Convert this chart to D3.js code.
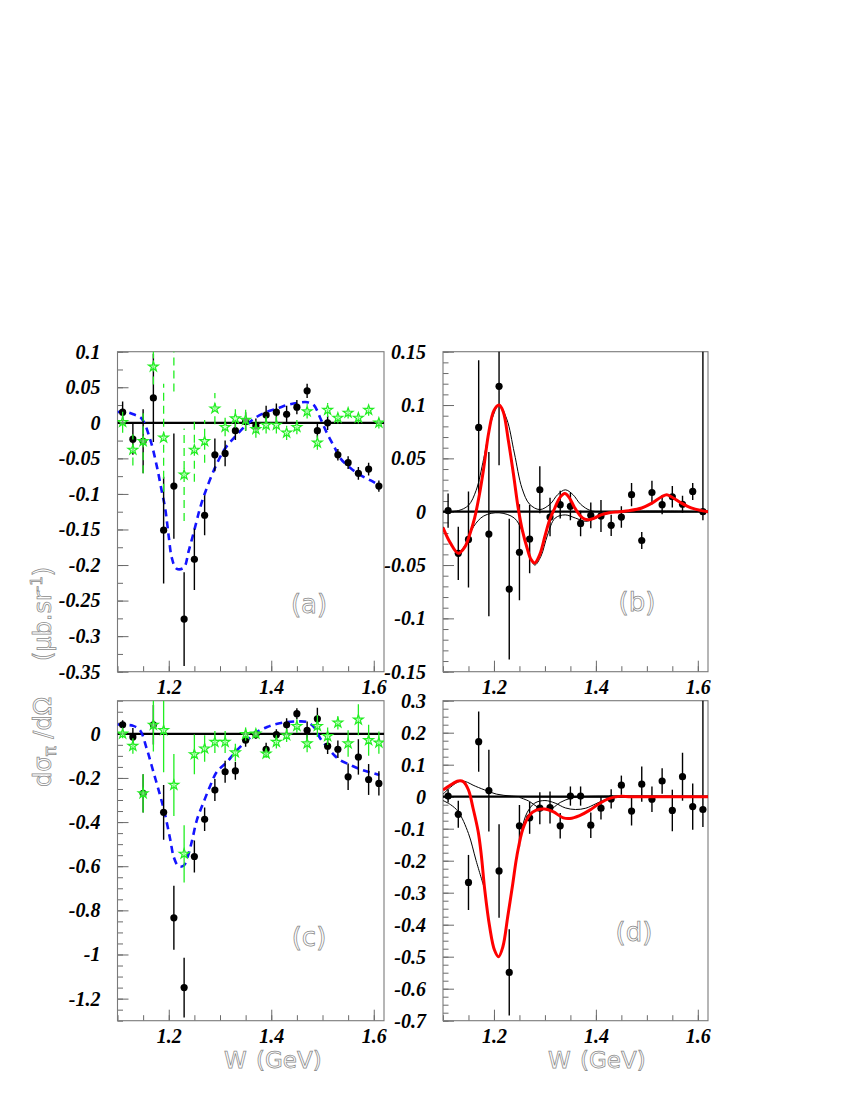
<!DOCTYPE html>
<html><head><meta charset="utf-8">
<script src="https://cdn.jsdelivr.net/npm/d3@7"></script>
<style>body{margin:0;background:#fff}svg{display:block}
.tl{font-family:"Liberation Serif","Times New Roman",serif;font-weight:bold;font-style:italic;font-size:20px}
</style>
</head><body>
<script>
// ---------------- DATA ----------------
const wPoints = [1.11,1.13,1.15,1.17,1.19,1.21,1.23,1.25,1.27,1.29,1.31,1.33,1.35,1.37,1.39,1.41,1.43,1.45,1.47,1.49,1.51,1.53,1.55,1.57,1.59,1.61];

// panel (a)
const aBlack    = [0.015,-0.023,-0.026,0.035,-0.151,-0.089,-0.276,-0.192,-0.130,-0.045,-0.043,-0.011,0.002,-0.004,0.011,0.015,0.012,0.022,0.045,-0.011,0.0,-0.045,-0.056,-0.071,-0.065,-0.089];
const aBlackErr = [0.015,0.022,0.045,0.062,0.075,0.074,0.066,0.043,0.028,0.023,0.018,0.013,0.013,0.010,0.013,0.012,0.012,0.010,0.010,0.010,0.010,0.008,0.009,0.009,0.009,0.008];
const aGreen    = [0.001,-0.038,-0.026,0.079,-0.021,0.15,-0.073,-0.038,-0.026,0.020,-0.006,0.006,0.004,-0.009,-0.003,-0.003,-0.014,-0.006,0.016,-0.028,0.018,0.007,0.014,0.007,0.018,0.0];
const aGreenErr = [0.015,0.022,0.045,0.025,0.076,0.106,0.065,0.045,0.030,0.022,0.013,0.013,0.015,0.012,0.012,0.012,0.010,0.010,0.010,0.010,0.010,0.008,0.008,0.008,0.008,0.008];
const aBlueW = [1.10,1.111,1.131,1.147,1.164,1.177,1.186,1.193,1.200,1.206,1.215,1.229,1.239,1.252,1.261,1.271,1.291,1.310,1.330,1.353,1.372,1.392,1.412,1.431,1.451,1.470,1.483,1.496,1.509,1.523,1.535,1.555,1.575,1.594,1.614];
const aBlueY = [0.015,0.016,0.012,0.006,-0.024,-0.062,-0.095,-0.12,-0.16,-0.19,-0.205,-0.204,-0.18,-0.145,-0.12,-0.098,-0.062,-0.036,-0.019,-0.002,0.0085,0.0155,0.020,0.025,0.028,0.029,0.025,0.006,-0.015,-0.034,-0.050,-0.064,-0.074,-0.081,-0.089];

// panel (b)
const bBlack    = [0.001,-0.039,-0.026,0.079,-0.021,0.1175,-0.0725,-0.038,-0.0256,0.0206,-0.005,0.0066,0.005,-0.011,-0.0034,-0.004,-0.0128,-0.005,0.016,-0.027,0.018,0.0066,0.014,0.007,0.019,0.0];
const bErrDown  = [0.016,0.025,0.045,0.063,0.077,0.074,0.066,0.045,0.032,0.022,0.018,0.013,0.013,0.012,0.012,0.015,0.010,0.010,0.011,0.008,0.011,0.009,0.010,0.008,0.008,0.008];
const bErrUp    = [0.016,0.025,0.045,0.063,0.077,0.074,0.066,0.045,0.032,0.022,0.018,0.013,0.013,0.012,0.012,0.015,0.010,0.010,0.011,0.008,0.011,0.009,0.010,0.008,0.008,0.30];
const bRedW = [1.10,1.114,1.130,1.143,1.152,1.162,1.171,1.179,1.190,1.200,1.210,1.218,1.228,1.238,1.248,1.256,1.265,1.273,1.280,1.290,1.300,1.309,1.319,1.329,1.339,1.348,1.358,1.368,1.378,1.387,1.397,1.410,1.426,1.446,1.465,1.490,1.510,1.529,1.539,1.548,1.568,1.587,1.607,1.620];
const bRedY = [-0.015,-0.029,-0.039,-0.033,-0.022,-0.006,0.015,0.038,0.075,0.095,0.100,0.094,0.0675,0.036,0.002,-0.018,-0.034,-0.045,-0.048,-0.040,-0.023,-0.008,0.003,0.013,0.017,0.013,0.004,-0.003,-0.007,-0.0075,-0.006,-0.003,-0.001,0.0,0.001,0.0035,0.008,0.014,0.016,0.014,0.008,0.0035,0.001,0.0];
const bThin1W = [1.10,1.13,1.15,1.165,1.18,1.195,1.21,1.225,1.24,1.255,1.27,1.29,1.31,1.325,1.34,1.355,1.37,1.39,1.42,1.62];
const bThin1Y = [0.0,0.001,0.006,0.02,0.05,0.085,0.1,0.087,0.055,0.022,0.007,0.002,0.007,0.016,0.0205,0.016,0.007,0.001,0.0,0.0];
const bThin2W = [1.10,1.115,1.13,1.145,1.16,1.18,1.21,1.24,1.255,1.268,1.28,1.292,1.305,1.32,1.34,1.36,1.38,1.40,1.43,1.62];
const bThin2Y = [-0.014,-0.03,-0.038,-0.03,-0.014,-0.004,-0.001,-0.006,-0.018,-0.038,-0.05,-0.042,-0.022,-0.006,-0.003,-0.006,-0.009,-0.006,-0.001,0.0];

// panel (c)
const cBlack    = [0.041,-0.014,-0.27,0.041,-0.356,-0.834,-1.15,-0.556,-0.3875,-0.255,-0.172,-0.168,-0.029,-0.004,-0.07,-0.004,0.041,0.091,0.016,0.068,-0.056,-0.07,-0.195,-0.105,-0.207,-0.225];
const cBlackErr = [0.02,0.04,0.087,0.09,0.124,0.145,0.135,0.073,0.053,0.05,0.05,0.04,0.03,0.02,0.03,0.025,0.03,0.025,0.04,0.05,0.035,0.04,0.06,0.08,0.07,0.055];
const cGreen    = [0.0,-0.055,-0.27,0.04,0.016,-0.232,-0.544,-0.093,-0.067,-0.037,-0.037,-0.085,-0.002,0.0,-0.09,-0.037,-0.007,0.035,-0.044,0.035,-0.011,0.05,-0.044,0.064,-0.029,-0.04];
const cGreenErr = [0.02,0.035,0.087,0.12,0.19,0.14,0.13,0.09,0.06,0.05,0.05,0.04,0.03,0.02,0.02,0.03,0.03,0.03,0.04,0.05,0.04,0.03,0.06,0.07,0.07,0.05];
const cBlueW = [1.10,1.111,1.131,1.144,1.157,1.170,1.183,1.193,1.203,1.210,1.219,1.229,1.237,1.245,1.255,1.268,1.281,1.294,1.314,1.330,1.353,1.372,1.392,1.412,1.431,1.451,1.470,1.483,1.496,1.509,1.523,1.535,1.555,1.575,1.594,1.611];
const cBlueY = [0.042,0.041,0.036,0.016,-0.067,-0.172,-0.278,-0.368,-0.48,-0.56,-0.60,-0.598,-0.556,-0.488,-0.39,-0.31,-0.235,-0.172,-0.127,-0.082,-0.029,0.008,0.031,0.046,0.053,0.056,0.053,0.031,-0.022,-0.059,-0.097,-0.12,-0.142,-0.162,-0.175,-0.187];

// panel (d)
const dBlack    = [0.002,-0.055,-0.268,0.172,0.019,-0.232,-0.549,-0.091,-0.066,-0.036,-0.034,-0.091,0.002,0.002,-0.089,-0.036,-0.007,0.036,-0.045,0.039,-0.008,0.049,-0.043,0.0625,-0.031,-0.04];
const dErrDown  = [0.02,0.042,0.086,0.094,0.128,0.146,0.135,0.065,0.05,0.05,0.05,0.04,0.03,0.03,0.04,0.035,0.03,0.03,0.045,0.055,0.04,0.04,0.065,0.075,0.072,0.055];
const dErrUp    = [0.02,0.042,0.086,0.094,0.128,0.146,0.135,0.065,0.05,0.05,0.05,0.04,0.03,0.03,0.04,0.035,0.03,0.03,0.045,0.055,0.04,0.04,0.065,0.075,0.072,0.45];
const dRedW = [1.10,1.114,1.130,1.140,1.150,1.159,1.169,1.175,1.182,1.1915,1.201,1.209,1.2175,1.227,1.237,1.245,1.257,1.270,1.283,1.2996,1.316,1.336,1.349,1.368,1.388,1.407,1.427,1.446,1.470,1.620];
const dRedY = [0.021,0.036,0.049,0.047,0.021,-0.036,-0.109,-0.18,-0.292,-0.406,-0.479,-0.50,-0.469,-0.375,-0.271,-0.185,-0.099,-0.057,-0.042,-0.0385,-0.047,-0.066,-0.068,-0.059,-0.042,-0.021,-0.005,0.001,0.0,0.0];
const dThin1W = [1.10,1.115,1.128,1.137,1.148,1.159,1.182,1.205,1.235,1.27,1.62];
const dThin1Y = [0.008,0.03,0.045,0.049,0.045,0.036,0.021,0.008,0.002,0.0,0.0];
const dThin2W = [1.10,1.115,1.13,1.15,1.165,1.18];
const dThin2Y = [-0.012,-0.025,-0.047,-0.115,-0.2,-0.28];
const dThin3W = [1.245,1.255,1.265,1.28,1.30,1.32,1.34,1.36,1.38,1.40,1.42,1.44,1.46,1.62];
const dThin3Y = [-0.19,-0.10,-0.05,-0.02,-0.012,-0.02,-0.035,-0.04,-0.036,-0.022,-0.008,-0.001,0.0,0.0];
const dThin4W = [1.25,1.27,1.285,1.30,1.315,1.33,1.35,1.37,1.62];
const dThin4Y = [-0.002,-0.015,-0.032,-0.04,-0.035,-0.018,-0.005,0.0,0.0];

const xMajorTicks = [1.2,1.4,1.6];

// ---------------- DRAWING ----------------
const svg = d3.select("body").append("svg").attr("width",850).attr("height",1100);
const defs = svg.append("defs");
const TITLE_FONT = "DejaVu Sans, sans-serif";
const GREEN = "#22ee22";

function fmt(v){ const r = Math.round(v*10000)/10000; return r === 0 ? "0" : String(r); }
function stepTicks(lo, hi, step){
  const out = [];
  const i0 = Math.ceil(lo/step - 1e-9), i1 = Math.floor(hi/step + 1e-9);
  for (let i=i0;i<=i1;i++) out.push(Math.round(i*step*100000)/100000);
  return out;
}

function panel(cfg){
  const g = svg.append("g");
  const x = d3.scaleLinear().domain([1.1,1.62]).range([cfg.x0, cfg.x0+cfg.w]);
  const y = d3.scaleLinear().domain(cfg.yDomain).range([cfg.y0+cfg.h, cfg.y0]);
  const clipId = "clip-"+cfg.name;
  defs.append("clipPath").attr("id",clipId).append("rect")
    .attr("x",cfg.x0).attr("y",cfg.y0).attr("width",cfg.w).attr("height",cfg.h);

  const xMinor = d3.axisBottom(x).tickValues(stepTicks(1.1,1.62,0.05)).tickSizeInner(-5.5).tickSizeOuter(0).tickFormat("");
  const xMajor = d3.axisBottom(x).tickValues(xMajorTicks).tickSizeInner(-11).tickSizeOuter(0).tickPadding(8).tickFormat(d=>d.toFixed(1));
  const yMinor = d3.axisLeft(y).tickValues(stepTicks(cfg.yDomain[0],cfg.yDomain[1],cfg.yMinor)).tickSizeInner(-5.5).tickSizeOuter(0).tickFormat("");
  const yMajor = d3.axisLeft(y).tickValues(stepTicks(cfg.yDomain[0],cfg.yDomain[1],cfg.yMajor)).tickSizeInner(-11).tickSizeOuter(0).tickPadding(17).tickFormat(fmt);

  const ax = g.append("g");
  [[xMinor,"x"],[xMajor,"x"],[yMinor,"y"],[yMajor,"y"]].forEach(([a,t])=>{
    const sel = ax.append("g")
      .attr("transform", t==="x" ? `translate(0,${cfg.y0+cfg.h})` : `translate(${cfg.x0},0)`)
      .call(a);
    sel.attr("font-family",null).attr("font-size",null);
    sel.select(".domain").remove();
    sel.selectAll(".tick line").attr("stroke","#6a6a6a").attr("stroke-width",1);
    sel.selectAll(".tick text").attr("class","tl").attr("fill","#000");
  });

  g.append("rect").attr("x",cfg.x0).attr("y",cfg.y0).attr("width",cfg.w).attr("height",cfg.h)
    .attr("fill","none").attr("stroke","#7a7a7a").attr("stroke-width",1.1);

  const plot = g.append("g").attr("clip-path",`url(#${clipId})`);
  plot.append("line").attr("x1",x(1.1)).attr("x2",x(1.62)).attr("y1",y(0)).attr("y2",y(0))
    .attr("stroke","#000").attr("stroke-width",2.2);
  return {g, plot, x, y};
}

function drawCurve(p, W, Y, style){
  const line = d3.line().x((d,i)=>p.x(W[i])).y(d=>p.y(d)).curve(d3.curveCatmullRom.alpha(0.5));
  const path = p.plot.append("path").attr("d", line(Y)).attr("fill","none")
    .attr("stroke",style.color).attr("stroke-width",style.width);
  if (style.dash) path.attr("stroke-dasharray",style.dash);
}
function drawErr(p, vals, errDown, errUp, style){
  p.plot.append("g").selectAll("line").data(vals).join("line")
    .attr("x1",(d,i)=>p.x(wPoints[i])).attr("x2",(d,i)=>p.x(wPoints[i]))
    .attr("y1",(d,i)=>p.y(d-errDown[i])).attr("y2",(d,i)=>p.y(d+errUp[i]))
    .attr("stroke",style.color).attr("stroke-width",style.width)
    .attr("stroke-dasharray",style.dash||null);
}
function drawDots(p, vals){
  p.plot.append("g").selectAll("circle").data(vals).join("circle")
    .attr("cx",(d,i)=>p.x(wPoints[i])).attr("cy",d=>p.y(d)).attr("r",3.6).attr("fill","#000");
}
function drawStars(p, vals){
  const star = d3.symbol().type(d3.symbolStar).size(30);
  p.plot.append("g").selectAll("path").data(vals).join("path")
    .attr("d",star).attr("transform",(d,i)=>`translate(${p.x(wPoints[i])},${p.y(d)})`)
    .attr("fill","#b8ffb8").attr("fill-opacity",0.6).attr("stroke",GREEN).attr("stroke-width",1.2);
}
function outlinedText(sel){
  return sel.attr("font-family",TITLE_FONT).attr("fill","#fff")
    .attr("stroke","#8a8a8a").attr("stroke-width",0.75);
}
function panelLabel(text, cx, cy){
  outlinedText(svg.append("text").attr("x",cx).attr("y",cy).attr("dy","0.35em").attr("text-anchor","middle")
    .attr("font-size",26)).text(text);
}

const LEFT = {x0:117.5, w:266.5}, RIGHT = {x0:443, w:265};
const TOP = {y0:351.7, h:320}, BOT = {y0:700.7, h:320};

// (a)
const pa = panel({name:"a", ...LEFT, ...TOP, yDomain:[-0.35,0.1], yMajor:0.05, yMinor:0.025});
drawCurve(pa, aBlueW, aBlueY, {color:"#1414ff", width:2.6, dash:"7,5"});
drawErr(pa, aBlack, aBlackErr, aBlackErr, {color:"#000", width:1.4});
drawDots(pa, aBlack);
drawErr(pa, aGreen, aGreenErr, aGreenErr, {color:GREEN, width:1.3, dash:"8,5"});
drawStars(pa, aGreen);
panelLabel("(a)", 309, 604);

// (b)
const pb = panel({name:"b", ...RIGHT, ...TOP, yDomain:[-0.15,0.15], yMajor:0.05, yMinor:0.01});
drawCurve(pb, bThin1W, bThin1Y, {color:"#000", width:1});
drawCurve(pb, bThin2W, bThin2Y, {color:"#000", width:1});
drawErr(pb, bBlack, bErrDown, bErrUp, {color:"#000", width:1.4});
drawDots(pb, bBlack);
drawCurve(pb, bRedW, bRedY, {color:"#ff0000", width:3});
panelLabel("(b)", 637, 602);

// (c)
const pc = panel({name:"c", ...LEFT, ...BOT, yDomain:[-1.3,0.15], yMajor:0.2, yMinor:0.05});
drawCurve(pc, cBlueW, cBlueY, {color:"#1414ff", width:2.6, dash:"7,5"});
drawErr(pc, cBlack, cBlackErr, cBlackErr, {color:"#000", width:1.4});
drawDots(pc, cBlack);
drawErr(pc, cGreen, cGreenErr, cGreenErr, {color:GREEN, width:1.3});
drawStars(pc, cGreen);
panelLabel("(c)", 309, 937);

// (d)
const pd = panel({name:"d", ...RIGHT, ...BOT, yDomain:[-0.7,0.3], yMajor:0.1, yMinor:0.025});
drawCurve(pd, dThin1W, dThin1Y, {color:"#000", width:1});
drawCurve(pd, dThin2W, dThin2Y, {color:"#000", width:1});
drawCurve(pd, dThin3W, dThin3Y, {color:"#000", width:1});
drawCurve(pd, dThin4W, dThin4Y, {color:"#000", width:1});
drawErr(pd, dBlack, dErrDown, dErrUp, {color:"#000", width:1.4});
drawDots(pd, dBlack);
drawCurve(pd, dRedW, dRedY, {color:"#ff0000", width:3});
panelLabel("(d)", 634, 932);

// axis titles
[LEFT, RIGHT].forEach(c=>{
  const t = outlinedText(svg.append("text").attr("y",1068).attr("font-size",23));
  t.append("tspan").attr("x",c.x0+c.w-160).text("W");
  t.append("tspan").attr("x",c.x0+c.w-128).text("(GeV)");
});
const yt = outlinedText(svg.append("text").attr("transform","translate(51,787) rotate(-90)").attr("font-size",24));
yt.append("tspan").text("dσ");
yt.append("tspan").attr("font-size",17).attr("dy",5).text("π");
yt.append("tspan").attr("dy",-5).text(" /dΩ");
yt.append("tspan").attr("x",126).text("(μb.sr");
yt.append("tspan").attr("font-size",15).attr("dy",-9).text("-1");
yt.append("tspan").attr("dy",9).text(")");
</script>
</body></html>
